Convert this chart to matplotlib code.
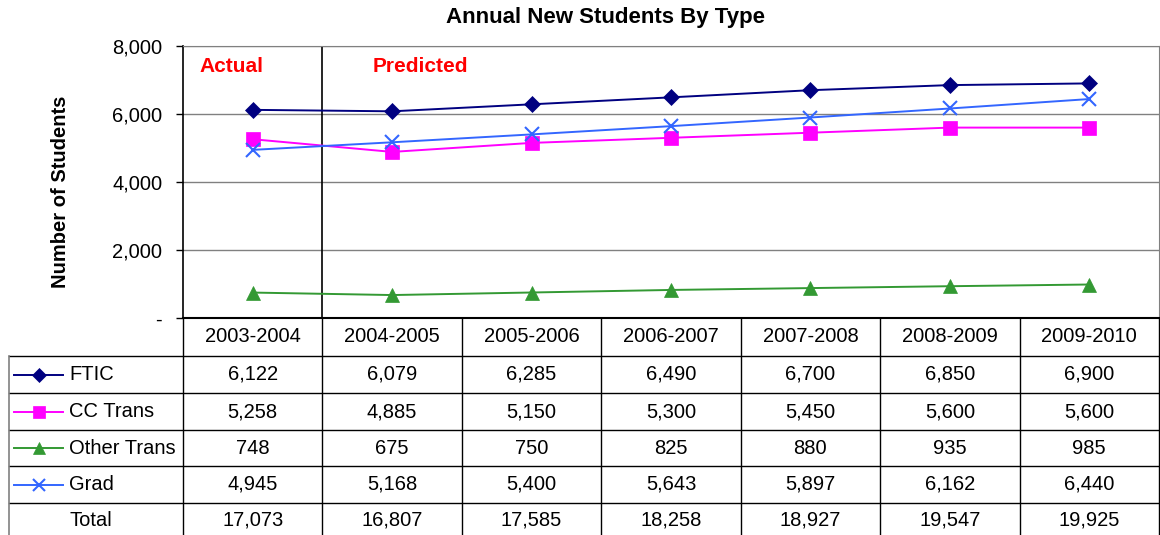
import matplotlib.pyplot as plt
from matplotlib.lines import Line2D

plt.rcParams['font.family'] = ['Liberation Sans', 'DejaVu Sans']

years = ['2003-2004', '2004-2005', '2005-2006', '2006-2007', '2007-2008', '2008-2009', '2009-2010']
ftic = [6122, 6079, 6285, 6490, 6700, 6850, 6900]
cc_trans = [5258, 4885, 5150, 5300, 5450, 5600, 5600]
other_trans = [748, 675, 750, 825, 880, 935, 985]
grad = [4945, 5168, 5400, 5643, 5897, 6162, 6440]
totals = [a + b + c + d for a, b, c, d in zip(ftic, cc_trans, other_trans, grad)]

series = [
    ('FTIC', ftic, '#000080', 'D', 8.5),
    ('CC Trans', cc_trans, '#FF00FF', 's', 9.5),
    ('Other Trans', other_trans, '#339933', '^', 9.5),
    ('Grad', grad, '#3366FF', 'x', 9.5),
]

W, H = 1160, 535
fs = 14.5
fig = plt.figure(figsize=(W / 100, H / 100), dpi=100)

# plot area
x0, x1, ytop, ybot = 183, 1159, 46, 318
ax = fig.add_axes([x0 / W, 1 - ybot / H, (x1 - x0) / W, (ybot - ytop) / H])
xs = range(len(years))
for name, vals, col, mk, ms in series:
    ax.plot(xs, vals, color=col, marker=mk, markersize=ms, lw=1.4,
            markeredgewidth=1.5 if mk == 'x' else 0.5, zorder=3)
ax.set_xlim(-0.5, len(years) - 0.5)
ax.set_ylim(0, 8000)
ax.set_yticks([0, 2000, 4000, 6000, 8000])
ax.set_yticklabels(['-', '2,000', '4,000', '6,000', '8,000'], fontsize=fs)
ax.set_xticks([])
ax.tick_params(axis='y', direction='out', length=5, width=1, pad=10)
ax.grid(axis='y', color='#808080', lw=1)
ax.set_axisbelow(True)
ax.spines['top'].set_color('#808080')
ax.spines['right'].set_color('#808080')
ax.spines['left'].set_linewidth(1.2)
ax.spines['bottom'].set_linewidth(1.5)
ax.axvline(0.5, color='black', lw=1.2, zorder=2)
ax.text(-0.155, 7400, 'Actual', color='red', fontsize=15, fontweight='bold', va='center', ha='center')
ax.text(1.2, 7400, 'Predicted', color='red', fontsize=15, fontweight='bold', va='center', ha='center')

fig.text(605 / W, 1 - 17 / H, 'Annual New Students By Type', fontsize=16,
         fontweight='bold', ha='center', va='center')
fig.text(60 / W, 1 - 192 / H, 'Number of Students', fontsize=fs, fontweight='bold',
         rotation=90, ha='center', va='center')

# data table below the plot, laid out in pixel coordinates
tb = fig.add_axes([0, 0, 1, 1])
tb.set_xlim(0, W)
tb.set_ylim(H, 0)
tb.axis('off')
tb.patch.set_alpha(0)

colw = (x1 - x0) / len(years)
col_edges = [x0 + i * colw for i in range(len(years) + 1)]
row_edges = [318, 356, 393, 430, 466, 503, 540]
left = 9

for y in row_edges[1:-1]:
    tb.plot([left, x1], [y, y], color='black', lw=1)
for x in col_edges:
    tb.plot([x, x], [row_edges[0], H], color='black', lw=1)
tb.plot([left, left], [row_edges[1], H], color='#808080', lw=1.2)

for i, yr in enumerate(years):
    tb.text(x0 + (i + 0.5) * colw, (row_edges[0] + row_edges[1]) / 2, yr,
            fontsize=fs, ha='center', va='center')

rows = [(s[0], s[1], s) for s in series] + [('Total', totals, None)]
for r, (name, vals, style) in enumerate(rows):
    yc = (row_edges[r + 1] + row_edges[r + 2]) / 2
    if r == len(rows) - 1:
        yc = yc - 1
    if style is not None:
        _, _, col, mk, ms = style
        tb.add_line(Line2D([14, 63], [yc, yc], color=col, lw=1.4))
        tb.add_line(Line2D([38.5], [yc], color=col, marker=mk, markersize=ms - 1,
                           markeredgewidth=1.5 if mk == 'x' else 0.5))
    tb.text(69, yc, name, fontsize=fs, ha='left', va='center')
    for i, v in enumerate(vals):
        tb.text(x0 + (i + 0.5) * colw, yc, f'{v:,}', fontsize=fs, ha='center', va='center')

fig.savefig('out.png', dpi=100)
